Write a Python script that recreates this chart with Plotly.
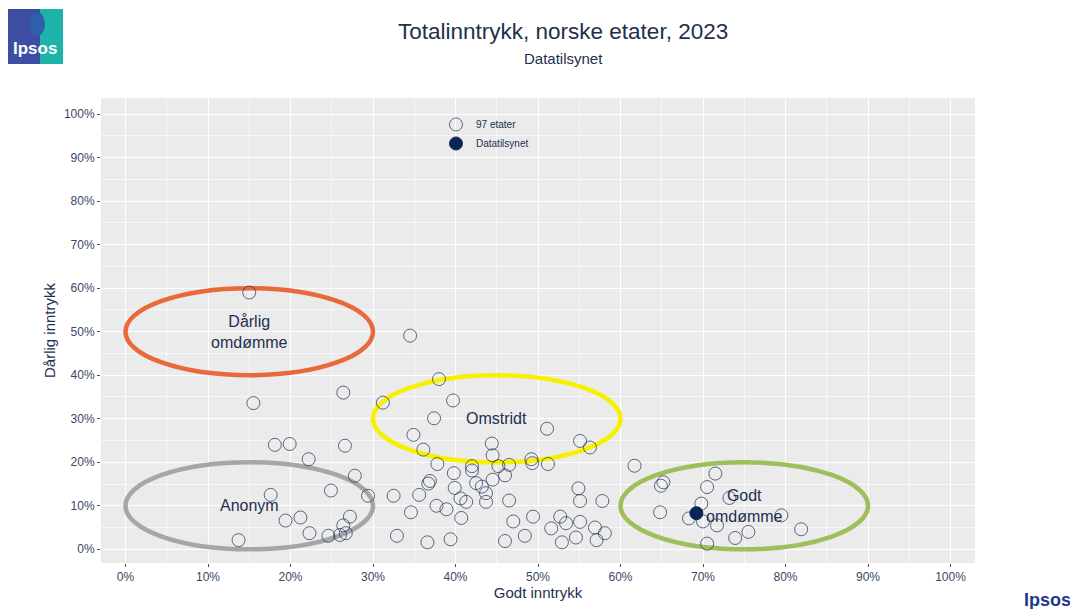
import plotly.graph_objects as go

# ---------------- data ----------------
godt_inntrykk = [15.0, 34.5, 38.0, 26.4, 15.5, 31.2, 39.7, 37.4, 51.1, 34.9,
                 55.1, 56.3, 18.1, 19.9, 26.6, 44.4, 36.1, 22.2, 44.5, 37.8,
                 42.0, 42.0, 45.2, 46.5, 49.2, 49.3, 51.2, 61.7, 39.8, 46.0,
                 27.8, 44.5, 36.9, 36.7, 42.5, 43.2, 39.9, 54.9, 24.9, 43.7,
                 17.6, 29.4, 32.5, 35.6, 40.6, 41.3, 43.7, 46.5, 55.1, 57.8,
                 37.7, 38.9, 34.6, 40.7, 47.0, 49.4, 52.7, 53.4, 55.1, 51.6,
                 56.9, 58.1, 32.9, 36.6, 39.4, 46.0, 48.4, 52.9, 54.6, 57.1,
                 27.2, 21.2, 19.4, 26.4, 22.3, 24.6, 26.0, 26.7, 13.7, 71.5,
                 65.2, 64.9, 70.5, 73.2, 69.8, 64.8, 68.3, 70.0, 71.7, 79.5,
                 81.9, 75.5, 73.9, 70.5]
darlig_inntrykk = [59.0, 49.1, 39.1, 36.0, 33.6, 33.7, 34.2, 30.1, 27.7, 26.3,
                   24.9, 23.4, 24.0, 24.2, 23.8, 24.3, 22.9, 20.7, 21.6, 19.6,
                   19.1, 18.1, 19.1, 19.4, 20.7, 19.8, 19.6, 19.2, 17.5, 17.0,
                   16.9, 16.0, 15.7, 15.1, 15.2, 14.4, 14.1, 14.0, 13.5, 12.9,
                   12.5, 12.3, 12.3, 12.5, 11.7, 10.9, 10.9, 11.2, 11.1, 11.1,
                   10.0, 9.2, 8.5, 7.2, 6.4, 7.5, 7.5, 6.0, 6.3, 4.8,
                   5.0, 3.7, 3.1, 1.6, 2.3, 1.9, 3.1, 1.6, 2.7, 2.1,
                   7.5, 7.3, 6.6, 5.5, 3.7, 3.1, 3.3, 3.7, 2.1, 17.4,
                   15.4, 14.6, 14.3, 11.8, 10.5, 8.5, 7.1, 6.4, 5.5, 7.8,
                   4.6, 4.0, 2.6, 1.3]

focus_name = "Datatilsynet"
focus_godt = [69.2]
focus_darlig = [8.3]

# Zones (label, x-centre, y-centre, half-width, half-height, colour)
zone_labels = ["Dårlig<br>omdømme", "Omstridt", "Anonym", "Godt<br>omdømme"]
zone_cx = [15, 45, 15, 75]
zone_cy = [50, 30, 10, 10]
zone_rx = [15, 15, 15, 15]
zone_ry = [10, 10, 10, 10]
zone_colors = ["#E8693A", "#F7F000", "#A6A6A6", "#9DBF5C"]

tick_vals = list(range(0, 101, 10))
tick_text = [f"{v}%" for v in tick_vals]

# ---------------- layout constants ----------------
# The page body has an 8px margin, so the figure is drawn 8px smaller
# and all page-pixel positions are shifted by that offset.
OFF = 8
PAGE_W, PAGE_H = 1078, 609
W, H = PAGE_W - OFF, PAGE_H - OFF
PANEL_L, PANEL_R, PANEL_T, PANEL_B = 101, 975, 98, 563
ML, MR, MT, MB = PANEL_L - OFF, PAGE_W - PANEL_R, PANEL_T - OFF, PAGE_H - PANEL_B
NAVY = "#1E2F50"
FONT = "Liberation Sans, Arial, sans-serif"


def px_x(p):
    return (p - PANEL_L) / (PANEL_R - PANEL_L)


def px_y(p):
    return 1 - (p - PANEL_T) / (PANEL_B - PANEL_T)


fig = go.Figure()

fig.add_trace(go.Scatter(
    x=godt_inntrykk, y=darlig_inntrykk, mode="markers",
    name=f"{len(godt_inntrykk) + 3} etater",
    marker=dict(size=13, color="rgba(0,0,0,0)",
                line=dict(color="rgba(30,45,85,0.7)", width=1)),
    hoverinfo="x+y",
))
fig.add_trace(go.Scatter(
    x=focus_godt, y=focus_darlig, mode="markers", name=focus_name,
    marker=dict(size=13, color="#0B2656", line=dict(color="#0B2656", width=1)),
))

shapes = []
annotations = []
for lab, cx, cy, rx, ry, col in zip(zone_labels, zone_cx, zone_cy, zone_rx, zone_ry, zone_colors):
    shapes.append(dict(type="circle", xref="x", yref="y",
                       x0=cx - rx, x1=cx + rx, y0=cy - ry, y1=cy + ry,
                       line=dict(color=col, width=4.5), layer="between"))
    annotations.append(dict(x=cx, y=cy, xref="x", yref="y", text=lab, showarrow=False,
                            font=dict(family=FONT, size=16, color=NAVY)))

# Titles
annotations.append(dict(x=px_x(563), y=px_y(31), xref="paper", yref="paper",
                        text="Totalinntrykk, norske etater, 2023", showarrow=False,
                        font=dict(family=FONT, size=22.5, color=NAVY),
                        xanchor="center", yanchor="middle"))
annotations.append(dict(x=px_x(563), y=px_y(59), xref="paper", yref="paper",
                        text="Datatilsynet", showarrow=False,
                        font=dict(family=FONT, size=15, color=NAVY),
                        xanchor="center", yanchor="middle"))

# Logo top-left
shapes.append(dict(type="rect", xref="paper", yref="paper",
                   x0=px_x(8), x1=px_x(63), y0=px_y(64), y1=px_y(9),
                   fillcolor="#3C4DA2", line=dict(width=0), layer="above"))
shapes.append(dict(type="rect", xref="paper", yref="paper",
                   x0=px_x(40), x1=px_x(63), y0=px_y(64), y1=px_y(9),
                   fillcolor="#1DB3AA", line=dict(width=0), layer="above"))
shapes.append(dict(type="circle", xref="paper", yref="paper",
                   x0=px_x(29), x1=px_x(45), y0=px_y(36), y1=px_y(12),
                   fillcolor="#2E5FA9", line=dict(width=0), layer="above"))
annotations.append(dict(x=px_x(35), y=px_y(49), xref="paper", yref="paper",
                        text="<b>Ipsos</b>", showarrow=False,
                        font=dict(family="Liberation Sans Narrow, Liberation Sans", size=17, color="white"),
                        xanchor="center", yanchor="middle"))
# Logo bottom-right
annotations.append(dict(x=px_x(1047), y=px_y(600), xref="paper", yref="paper",
                        text="<b>Ipsos</b>", showarrow=False,
                        font=dict(family="Liberation Sans Narrow, Liberation Sans", size=18, color="#1F3A8A"),
                        xanchor="center", yanchor="middle"))

axis_common = dict(
    tickvals=tick_vals, ticktext=tick_text,
    showgrid=True, gridcolor="white", gridwidth=1.2,
    minor=dict(dtick=5, showgrid=True, gridcolor="rgba(255,255,255,0.6)", gridwidth=0.6),
    zeroline=False, showline=False, automargin=False,
    ticks="outside", ticklen=3, tickcolor="#555555", tickwidth=1,
    tickfont=dict(family=FONT, size=12, color="#3A4866"),
)

fig.update_layout(
    width=W, height=H,
    margin=dict(l=ML, r=MR, t=MT, b=MB, autoexpand=False),
    paper_bgcolor="white", plot_bgcolor="#EBEBEB",
    font=dict(family=FONT, color=NAVY),
    xaxis=dict(range=[-2.97, 102.97], title=dict(text="Godt inntrykk",
               font=dict(family=FONT, size=15, color=NAVY), standoff=0), **axis_common),
    yaxis=dict(range=[-3.15, 103.7], title=dict(text="Dårlig inntrykk",
               font=dict(family=FONT, size=15, color=NAVY), standoff=4), **axis_common),
    showlegend=True,
    legend=dict(x=px_x(436), y=px_y(110), xanchor="left", yanchor="top",
                bgcolor="rgba(0,0,0,0)", font=dict(family=FONT, size=10, color=NAVY),
                itemwidth=30, tracegroupgap=0),
    shapes=shapes, annotations=annotations,
)

fig.write_html("out.html")
